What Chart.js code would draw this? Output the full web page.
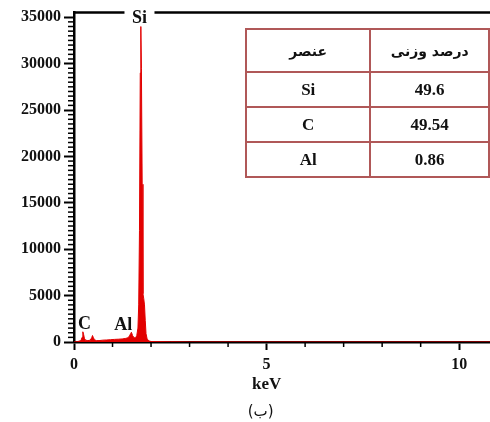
<!DOCTYPE html>
<html>
<head>
<meta charset="utf-8">
<script src="https://cdn.jsdelivr.net/npm/chart.js@4"></script>
<style>
  body{margin:0;background:#fff;}
  #wrap{position:relative;width:490px;height:422px;overflow:hidden;}
  #tbl{position:absolute;left:245px;top:28px;border-collapse:collapse;
       font-family:"Liberation Serif","Times New Roman",serif;font-weight:bold;color:#111;}
  #tbl td{border:2px solid rgb(176,88,88);text-align:center;padding:0;}
  #tbl tr.h td{height:41px;font-family:"DejaVu Sans",sans-serif;font-weight:bold;font-size:14px;}
  #tbl tr.r td{height:33px;font-size:17px;}
</style>
</head>
<body>
<div id="wrap">
  <canvas id="c" width="490" height="422"></canvas>
  <table id="tbl">
    <tr class="h"><td style="width:124px">عنصر</td><td style="width:118px">درصد وزنی</td></tr>
  </table>
</div>
<script>
// EDS spectrum values
var energy=[0.0,0.1,0.18,0.21,0.23,0.25,0.27,0.3,0.36,0.42,0.46,0.48,0.5,0.53,0.58,0.65,0.75,0.85,0.95,1.05,1.15,1.25,1.33,1.4,1.44,1.47,1.49,1.52,1.56,1.6,1.63,1.66,1.68,1.7,1.72,1.735,1.75,1.77,1.79,1.81,1.83,1.85,1.87,1.9,1.95,2.0,2.5,3,4,5,6,7,8,9,10,10.8]
var counts=[0,50,150,500,1100,800,400,200,150,200,450,700,500,250,150,150,200,220,250,280,300,330,380,450,650,900,1050,700,450,450,700,1500,4000,12000,29000,34000,29500,17000,5200,4700,4000,2300,900,300,120,50,20,10,10,5,5,5,5,5,5,5]

var elements=["Si","C","Al"]
var weightPct=["49.6","49.54","0.86"]

var peakLabels=["C","Al"]
var peakLabelE=[0.27,1.28]
var peakLabelY=[1900,1750]

var xMajor=[0,5,10]
var yMajor=[0,5000,10000,15000,20000,25000,30000,35000]
var yMax=35500
var yMinorStep=500
var xMinorStep=1

var tbl=document.getElementById("tbl")
for(var i=0;i<elements.length;i++){
  var tr=document.createElement("tr")
  tr.className="r"
  tr.innerHTML="<td>"+elements[i]+"</td><td>"+weightPct[i]+"</td>"
  tbl.appendChild(tr)
}

var serif='"Liberation Serif","Times New Roman",serif'

const extras={
  id:'extras',
  afterDraw:(chart)=>{
    const ctx=chart.ctx, x=chart.scales.x, y=chart.scales.y, a=chart.chartArea
    ctx.save()
    ctx.strokeStyle='#000'
    ctx.lineWidth=1.5
    // minor ticks
    for(var v=yMinorStep;v<=35000;v+=yMinorStep){
      if(v%5000==0) continue
      var py=y.getPixelForValue(v)
      ctx.beginPath();ctx.moveTo(a.left-6,py);ctx.lineTo(a.left,py);ctx.stroke()
    }
    for(var e=0;e<=10;e+=xMinorStep){
      if(e%5==0) continue
      var px=x.getPixelForValue(e)
      ctx.beginPath();ctx.moveTo(px,a.bottom);ctx.lineTo(px,a.bottom+5);ctx.stroke()
    }
    // top frame line with gap for Si label
    ctx.lineWidth=2.5
    ctx.beginPath();ctx.moveTo(a.left,a.top);ctx.lineTo(a.right,a.top);ctx.stroke()
    ctx.font='bold 18px '+serif
    ctx.textAlign='center';ctx.textBaseline='middle'
    var sx=x.getPixelForValue(1.7)
    ctx.fillStyle='#fff'
    ctx.fillRect(sx-15,a.top-3,30,10)
    ctx.fillStyle='#111'
    ctx.fillText('Si',sx,a.top+6)
    // peak labels
    for(var i=0;i<peakLabels.length;i++){
      ctx.fillText(peakLabels[i],x.getPixelForValue(peakLabelE[i]),y.getPixelForValue(peakLabelY[i]))
    }
    // axis title and caption
    ctx.font='bold 17px '+serif
    ctx.fillText('keV',x.getPixelForValue(5),385)
    ctx.font='15px "DejaVu Sans",sans-serif'
    ctx.fillText('(ب)',x.getPixelForValue(5)-6,412)
    ctx.restore()
  }
}

var points=energy.map((e,i)=>({x:e,y:counts[i]}))

new Chart(document.getElementById('c'),{
  type:'line',
  data:{datasets:[{
    data:points,
    borderColor:'rgb(226,0,0)',
    backgroundColor:'rgb(226,0,0)',
    borderWidth:1,
    pointRadius:0,
    fill:'origin',
    tension:0
  }]},
  options:{
    responsive:false,
    animation:false,
    layout:{padding:0},
    plugins:{legend:{display:false},tooltip:{enabled:false}},
    scales:{
      x:{
        type:'linear',min:0,max:10.8,
        afterFit:(s)=>{s.height=80},
        afterBuildTicks:(s)=>{s.ticks=xMajor.map(v=>({value:v}))},
        grid:{drawOnChartArea:false,tickLength:8,tickWidth:2,tickColor:'#000'},
        border:{color:'#000',width:2.5},
        ticks:{color:'#111',padding:5,callback:(v)=>String(v),
               font:{family:serif,weight:'bold',size:16}}
      },
      y:{
        min:0,max:yMax,
        afterFit:(s)=>{s.width=74},
        afterBuildTicks:(s)=>{s.ticks=yMajor.map(v=>({value:v}))},
        grid:{drawOnChartArea:false,tickLength:10,tickWidth:2,tickColor:'#000'},
        border:{color:'#000',width:2.5},
        ticks:{color:'#111',padding:3,callback:(v)=>String(v),
               font:{family:serif,weight:'bold',size:16}}
      }
    }
  },
  plugins:[extras]
})
</script>
</body>
</html>
